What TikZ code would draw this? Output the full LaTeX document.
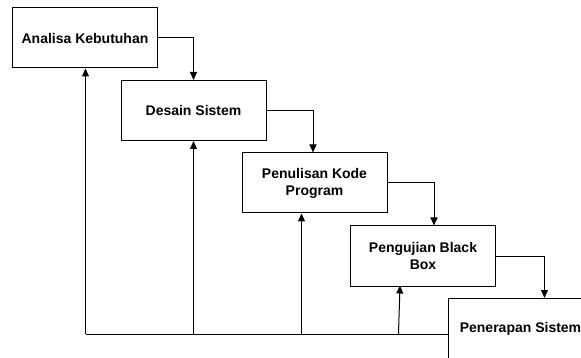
\documentclass[tikz,border=0pt]{standalone}
\usepackage{fontspec}
\setmainfont{Liberation Sans}
\usetikzlibrary{arrows.meta}
\begin{document}
\begin{tikzpicture}[x=1pt,y=-1pt,
  stage/.style={draw=black,line width=1pt,fill=white,anchor=north west,
    minimum width=145pt,minimum height=60pt,inner sep=0pt,align=center,
    font=\fontsize{14}{17}\selectfont\bfseries},
  flow/.style={draw=black,line width=1pt,-{Triangle[length=8pt,width=7pt]}},
  link/.style={draw=black,line width=1pt}]
\clip (0,0) rectangle (581,358);
\fill[white] (0,0) rectangle (581,358);
\node[stage] (s1) at (12,7.5) {Analisa Kebutuhan};
\node[stage] (s2) at (120.5,80) {Desain Sistem};
\node[stage] (s3) at (241.5,152.5) {Penulisan Kode\\Program};
\node[stage] (s4) at (350,225.5) {Pengujian Black\\Box};
\node[stage] (s5) at (447.5,298) {Penerapan Sistem};
% forward flow: each stage drops into the next one
\coordinate (d2) at (313,152.5);
\coordinate (d3) at (434,225.5);
\coordinate (d4) at (544.5,298);
\draw[flow] (s1.east) -| (s2.north);
\draw[flow] (s2.east) -| (d2);
\draw[flow] (s3.east) -| (d3);
\draw[flow] (s4.east) -| (d4);
% feedback bus along the bottom
\coordinate (b0) at (85.5,334);
\coordinate (b1) at (193.5,334);
\coordinate (b2) at (301.5,334);
\coordinate (b3) at (398.5,334);
\coordinate (t3) at (400,285.5);
\draw[link] (s5.west |- b0) -- (b0);
\draw[flow] (b0) -- (b0 |- s1.south);
\draw[flow] (b1) -- (b1 |- s2.south);
\draw[flow] (b2) -- (b2 |- s3.south);
\draw[flow] (b3) -- (t3);
\end{tikzpicture}
\end{document}
